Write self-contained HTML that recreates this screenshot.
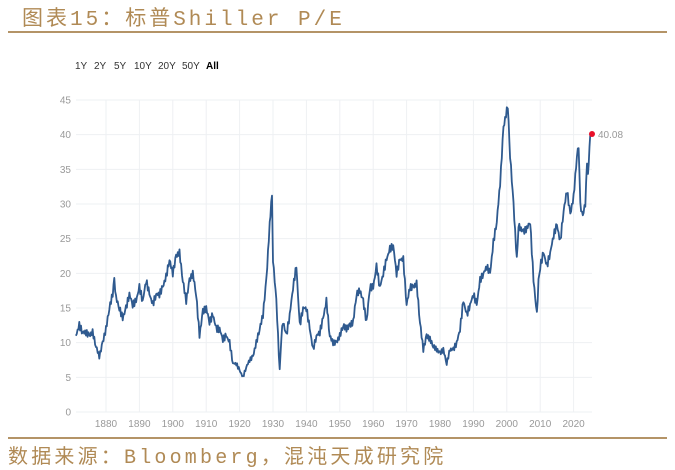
<!DOCTYPE html><html><head><meta charset="utf-8"><style>
body{margin:0;width:675px;height:468px;background:#fff;overflow:hidden;font-family:"Liberation Sans",sans-serif}
.t{position:absolute;left:22px;top:2px;font-size:21px;color:#b08a55;font-family:"Liberation Mono","Noto Sans CJK SC",monospace;letter-spacing:3px}
.f{position:absolute;left:8px;top:440px;font-size:20px;color:#b08a55;font-family:"Liberation Mono","Noto Sans CJK SC",monospace;letter-spacing:3.2px}
.l1{position:absolute;left:8px;width:659px;top:31px;height:2px;background:#b49467}
.l2{position:absolute;left:8px;width:659px;top:437px;height:2px;background:#b49467}
</style></head><body>
<div class="t">图表15：标普Shiller P/E</div><div class="l1"></div>
<svg width="675" height="468" style="position:absolute;left:0;top:0" id="s">
<g font-size="10" fill="#333"><text x="75" y="69">1Y</text><text x="94" y="69">2Y</text><text x="114" y="69">5Y</text><text x="134" y="69">10Y</text><text x="158" y="69">20Y</text><text x="182" y="69">50Y</text><text x="206" y="69" font-weight="bold" fill="#000">All</text></g>
<g id="g" stroke="#eef0f3" stroke-width="1"></g>
<g id="lab" font-size="10" fill="#999"></g>
<polyline id="p" fill="none" stroke="#2f5a8f" stroke-width="1.8" stroke-linejoin="round"/>
<circle cx="592" cy="134" r="3" fill="#e8102a"/>
<text x="598" y="138" font-size="10" fill="#999">40.08</text>
</svg>
<div class="l2"></div>
<div class="f">数据来源：Bloomberg，混沌天成研究院</div>
<script>
var g=document.getElementById('g'),lab=document.getElementById('lab'),ns="http://www.w3.org/2000/svg";
function X(y){return 106+(y-1880)*3.34}function Y(v){return 412-v*6.933}
function el(t,a,p){var e=document.createElementNS(ns,t);for(var k in a)e.setAttribute(k,a[k]);p.appendChild(e);return e}
for(var v=0;v<=45;v+=5){el('line',{x1:76,x2:592,y1:Y(v),y2:Y(v)},g);var t=el('text',{x:71,y:Y(v)+3.5,'text-anchor':'end'},lab);t.textContent=v}
for(var y=1880;y<=2020;y+=10){el('line',{x1:X(y),x2:X(y),y1:Y(45),y2:Y(0)},g);var t=el('text',{x:X(y),y:427,'text-anchor':'middle'},lab);t.textContent=y}
var d=[1871,11,1872,12.5,1873,11.5,1874,11.5,1875,11,1876,11.5,1877,9.5,1878,8,1879,10,1880,12,1881,15,1882,17,1882.5,19,1883,16.5,1884,15,1885,13.5,1886,15,1887,17,1888,15.5,1889,16,1890,18,1891,16,1892,19,1893,17,1894,15.5,1895,17,1896,17,1897,18,1898,19.5,1899,22,1900,20,1901,22.5,1902,23,1903,19,1904,16,1905,19,1906,20,1907,17,1908,11,1909,14.5,1910,15,1911,13,1912,14,1913,12,1914,12,1915,10.5,1916,11,1917,10,1918,7,1919,7,1920,6,1921,5,1922,6.5,1923,7.5,1924,8,1925,10,1926,12,1927,14,1928,19,1929,27,1929.7,31.5,1930,22,1931,16,1932,6,1932.5,11,1933,13,1934,11,1935,14,1936,18,1937,21,1938,12.5,1939,15,1940,15,1941,12,1942,9,1943,11,1944,11.5,1945,13.5,1946,16,1947,11,1948,10,1949,10,1950,11,1951,12.5,1952,12,1953,12.5,1954,13,1955,17,1956,17.5,1957,16,1958,13,1959,18,1960,18,1961,21,1962,18,1963,20,1964,22,1965,23.5,1966,24,1967,20,1968,22,1969,22,1970,15.5,1971,18,1972,18,1973,18.5,1974,13,1975,9,1976,11,1977,10.5,1978,9.5,1979,9,1980,8.5,1981,9,1982,7,1983,9,1984,9,1985,10,1986,12,1987,16,1988,14,1989,15.5,1990,17,1991,15.5,1992,19,1993,20,1994,21,1995,20,1996,24.5,1997,27.5,1998,33,1999,41,2000,43.5,2000.3,44,2001,37,2002,30,2003,22,2003.5,27,2004,26.5,2005,26,2006,26.5,2007,27.5,2008,19,2009,14,2009.5,19,2010,21,2011,23,2012,21,2013,23,2014,25.5,2015,27,2016,24.5,2017,29,2018,32,2019,28.5,2020,31,2021,37,2021.5,38.5,2022,30,2022.5,28.5,2023,29,2023.5,30,2024,35.5,2024.3,34,2025,40.08];
var pts=[];for(var i=0;i<d.length-2;i+=2){var y0=d[i],v0=d[i+1],y1=d[i+2],v1=d[i+3];var n=Math.max(1,Math.round((y1-y0)*4));for(var k=0;k<n;k++){var f=k/n,v=v0+(v1-v0)*f;v+=Math.sin(i*7.1+k*3.3)*0.5*Math.min(1,v/12);pts.push(X(y0+(y1-y0)*f).toFixed(1)+','+Y(v).toFixed(1))}}
pts.push(X(2025).toFixed(1)+','+Y(40.08).toFixed(1));
document.getElementById('p').setAttribute('points',pts.join(' '));
</script></body></html>
